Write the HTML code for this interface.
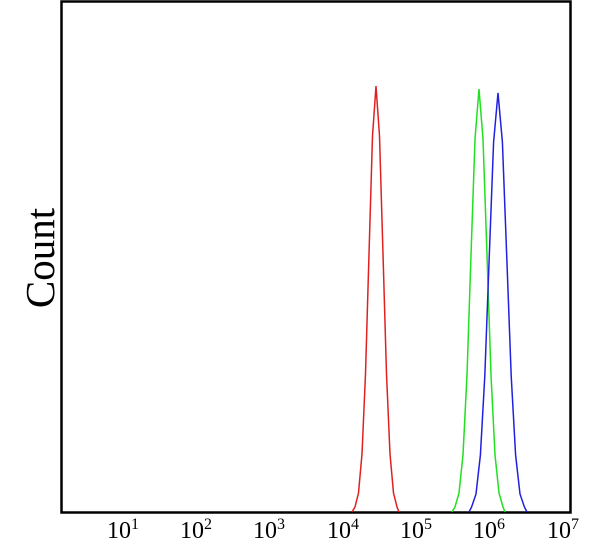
<!DOCTYPE html>
<html><head><style>body{margin:0;background:#fff}</style></head><body>
<svg width="607" height="559" xmlns="http://www.w3.org/2000/svg" style="display:block">
<rect x="0" y="0" width="607" height="559" fill="#fff"/>
<rect x="61.5" y="1.5" width="509" height="511" fill="none" stroke="#000" stroke-width="2.5"/>
<polyline fill="none" stroke="#e02020" stroke-width="1.5" points="352,512 355,507 358.5,493 362,454 365.5,374 369,254 372.5,136 376,86 379.5,136 383,254 386.5,374 390,454 393.5,493 397,507 399,512"/>
<polyline fill="none" stroke="#20e020" stroke-width="1.5" points="452,512 455,507 459,493 463,455 467,375 471,255 475,139 479,89 483,139 487,255 491,375 495,455 499,493 503,507 505,512"/>
<polyline fill="none" stroke="#2020e0" stroke-width="1.5" points="469,512 471.6,507 476,494 480.4,455 484.8,376 489.2,258 493.6,142 498,93 502.4,142 506.8,258 511.2,376 515.6,455 520,494 524.4,507 527,512"/>
<g font-family="Liberation Serif, serif" font-size="24" fill="#000" text-anchor="middle">
<text x="123" y="538">10<tspan font-size="16" dy="-9">1</tspan></text>
<text x="196" y="538">10<tspan font-size="16" dy="-9">2</tspan></text>
<text x="269" y="538">10<tspan font-size="16" dy="-9">3</tspan></text>
<text x="343" y="538">10<tspan font-size="16" dy="-9">4</tspan></text>
<text x="416" y="538">10<tspan font-size="16" dy="-9">5</tspan></text>
<text x="489" y="538">10<tspan font-size="16" dy="-9">6</tspan></text>
<text x="563" y="538">10<tspan font-size="16" dy="-9">7</tspan></text>
</g>
<text x="0" y="0" transform="translate(54,258) rotate(-90)" font-family="Liberation Serif, serif" font-size="41" text-anchor="middle">Count</text>
</svg>
</body></html>
